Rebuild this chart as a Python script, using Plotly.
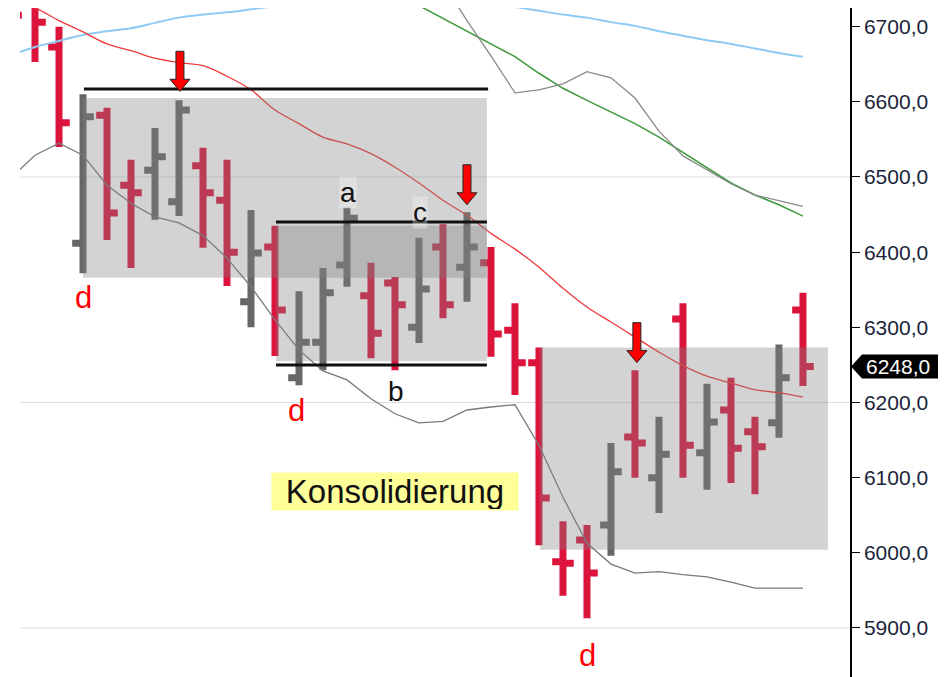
import plotly.graph_objects as go

# ---------------- data ----------------
bar_idx = list(range(-1, 33))
opens = [6745, 6735, 6673, 6412, 6582, 6489, 6509, 6467, 6515, 6469, 6334, 6407, 6233, 6280, 6383,
         6342, 6359, 6300, 6407, 6380, 6386, 6296, 6253, 5988, 6017, 6037, 6154, 6100, 6311, 6133,
         6190, 6161, 6173, 6323]
highs = [6760, 6745, 6700, 6610, 6592, 6523, 6565, 6602, 6539, 6523, 6456, 6435, 6348, 6379, 6459,
         6386, 6367, 6419, 6437, 6453, 6407, 6332, 6273, 6042, 6037, 6146, 6243, 6181, 6332, 6225,
         6233, 6181, 6277, 6346]
lows = [6690, 6653, 6540, 6372, 6416, 6379, 6443, 6448, 6406, 6355, 6300, 6262, 6223, 6243, 6354,
        6259, 6243, 6279, 6312, 6334, 6261, 6210, 6010, 5943, 5913, 5996, 6100, 6053, 6100, 6084,
        6093, 6078, 6153, 6222]
closes = [6715, 6706, 6572, 6580, 6452, 6479, 6527, 6589, 6479, 6400, 6399, 6323, 6280, 6346, 6445,
          6292, 6330, 6351, 6330, 6407, 6291, 6253, 6073, 5986, 5973, 6108, 6146, 6131, 6143, 6174,
          6139, 6141, 6233, 6248]

ma_red = [6735, 6725, 6708, 6693, 6677, 6668, 6658, 6652, 6648, 6634, 6616, 6589, 6571, 6553, 6544,
          6531, 6513, 6492, 6469, 6449, 6425, 6404, 6380, 6352, 6327, 6307, 6287, 6267, 6249, 6235,
          6226, 6217, 6213, 6207]
ma_blue = [6662, 6673, 6681, 6689, 6694, 6698, 6705, 6712, 6716, 6719, 6723, 6727, 6730, 6733, 6735,
           6737, 6737, 6736, 6734, 6731, 6728, 6726, 6721, 6716, 6712, 6706, 6701, 6694, 6688, 6682,
           6677, 6671, 6665, 6660]
green_idx = list(range(15, 33))
ma_green = [6745, 6728, 6711, 6693, 6676, 6660, 6638, 6618, 6602, 6586, 6571, 6553, 6533, 6512,
            6492, 6476, 6463, 6448]
upper_idx = list(range(17, 33))
band_upper = [6758, 6708, 6661, 6612, 6616, 6624, 6640, 6632, 6605, 6561, 6528, 6509, 6491, 6476,
              6469, 6461]
band_lower = [6499, 6529, 6545, 6529, 6489, 6465, 6447, 6439, 6422, 6392, 6354, 6310, 6270, 6242,
              6230, 6205, 6185, 6173, 6175, 6190, 6194, 6197, 6143, 6074, 6013, 5985, 5973, 5975,
              5971, 5968, 5961, 5953, 5953, 5953]

tick_vals = [5900, 6000, 6100, 6200, 6300, 6400, 6500, 6600, 6700]
tick_text = ["5900,0", "6000,0", "6100,0", "6200,0", "6300,0", "6400,0", "6500,0", "6600,0", "6700,0"]
grid_vals = [5900, 6200, 6500]

# consolidation boxes: (x0, x1, y0, y1)
boxes = [(2.0, 18.83, 6366, 6605), (10.04, 18.83, 6255, 6435), (21.04, 33.04, 6004, 6273)]
# black level lines: (x0, x1, y)
levels = [(2.04, 18.88, 6617), (10.04, 18.83, 6440), (10.04, 18.83, 6250)]
# arrows (tip positions)
arrow_x = [6.04, 18.0, 25.08]
arrow_y = [6614, 6463, 6253]
# letter labels
lbl_text = ["d", "d", "d", "a", "b", "c"]
lbl_x = [2.0, 10.9, 23.04, 13.04, 15.04, 16.04]
lbl_y = [6340, 6190, 5864, 6479, 6214, 6453]
lbl_color = ["#ff0000", "#ff0000", "#ff0000", "#111111", "#111111", "#111111"]
lbl_bg = [None, None, None, "rgba(255,255,255,0.3)", None, "rgba(255,255,255,0.3)"]
box_label = "Konsolidierung"
box_label_x, box_label_y = 15.0, 6081
last_price = 6248
last_price_text = "6248,0"

FONT = "Liberation Sans, Arial, sans-serif"

fig = go.Figure()
fig.add_trace(go.Ohlc(
    x=bar_idx, open=opens, high=highs, low=lows, close=closes,
    increasing=dict(line=dict(color="#676767", width=7)),
    decreasing=dict(line=dict(color="#dc143c", width=7)),
    tickwidth=0.45, hoverinfo="skip", showlegend=False))

fig.add_trace(go.Scatter(x=bar_idx, y=ma_blue, mode="lines", line=dict(color="#8fcaf5", width=2, shape="spline"), hoverinfo="skip"))
fig.add_trace(go.Scatter(x=green_idx, y=ma_green, mode="lines", line=dict(color="#3c9a3c", width=1.5), hoverinfo="skip"))
fig.add_trace(go.Scatter(x=upper_idx, y=band_upper, mode="lines", line=dict(color="#8a8a8a", width=1.3), hoverinfo="skip"))
fig.add_trace(go.Scatter(x=bar_idx, y=band_lower, mode="lines", line=dict(color="#7a7a7a", width=1.3), hoverinfo="skip"))
fig.add_trace(go.Scatter(x=bar_idx, y=ma_red, mode="lines", line=dict(color="#f03a3a", width=1.3, shape="spline"), hoverinfo="skip"))

shapes = []
for g in grid_vals:
    shapes.append(dict(type="line", xref="paper", yref="y", x0=0, x1=1, y0=g, y1=g,
                       line=dict(color="#dedede", width=1), layer="below"))
for (x0, x1, y0, y1) in boxes:
    shapes.append(dict(type="rect", xref="x", yref="y", x0=x0, x1=x1, y0=y0, y1=y1,
                       fillcolor="rgba(128,128,128,0.35)", line=dict(width=0), layer="above"))
for (x0, x1, y) in levels:
    shapes.append(dict(type="line", xref="x", yref="y", x0=x0, x1=x1, y0=y, y1=y,
                       line=dict(color="#111111", width=3), layer="above"))
arrow_path = "M0,0 L-10,12 L-4,12 L-4,40 L4,40 L4,12 L10,12 Z"
for ax_, ay_ in zip(arrow_x, arrow_y):
    shapes.append(dict(type="path", xref="x", yref="y", xsizemode="pixel", ysizemode="pixel",
                       xanchor=ax_, yanchor=ay_, path=arrow_path, fillcolor="#ff0000",
                       line=dict(color="#222222", width=1), layer="above"))
shapes.append(dict(type="path", xref="paper", yref="y", xsizemode="pixel", ysizemode="pixel",
                   xanchor=1, yanchor=last_price, path="M1,0 L12,12 L90,12 L90,-12 L12,-12 Z",
                   fillcolor="#000000", line=dict(width=0), layer="above"))

annotations = []
for t, x, y, c, bg in zip(lbl_text, lbl_x, lbl_y, lbl_color, lbl_bg):
    size = 31 if t == "d" else 28
    ann = dict(x=x, y=y, xref="x", yref="y", text=t, showarrow=False,
               xanchor="center", yanchor="middle", borderpad=0,
               font=dict(family=FONT, size=size, color=c))
    if bg:
        ann["bgcolor"] = bg
    annotations.append(ann)
annotations.append(dict(x=box_label_x, y=box_label_y, xref="x", yref="y", text=box_label,
                        showarrow=False, xanchor="center", yanchor="middle",
                        bgcolor="#ffff99", width=244, height=35, borderpad=1,
                        font=dict(family=FONT, size=33, color="#111111")))
annotations.append(dict(x=1, y=last_price, xref="paper", yref="y", text=last_price_text,
                        showarrow=False, xanchor="left", yanchor="middle", xshift=14,
                        font=dict(family=FONT, size=21, color="#ffffff")))

fig.update_layout(
    width=938, height=669,
    margin=dict(l=12, r=96, t=0, b=0),
    paper_bgcolor="white", plot_bgcolor="white",
    showlegend=False,
    separators=",.",
    shapes=shapes, annotations=annotations,
    xaxis=dict(range=[-0.625, 33.96], visible=False, showgrid=False, zeroline=False,
               rangeslider=dict(visible=False), fixedrange=True),
    yaxis=dict(range=[5834.8, 6724.8], side="right", showgrid=False, zeroline=False,
               tickvals=tick_vals, ticktext=tick_text, ticks="outside", ticklen=8,
               tickcolor="#000000", tickwidth=1, showline=True, linecolor="#000000", linewidth=1.5,
               tickfont=dict(family=FONT, size=21, color="#1c1f3a"), fixedrange=True),
)

fig.write_html("out.html")
